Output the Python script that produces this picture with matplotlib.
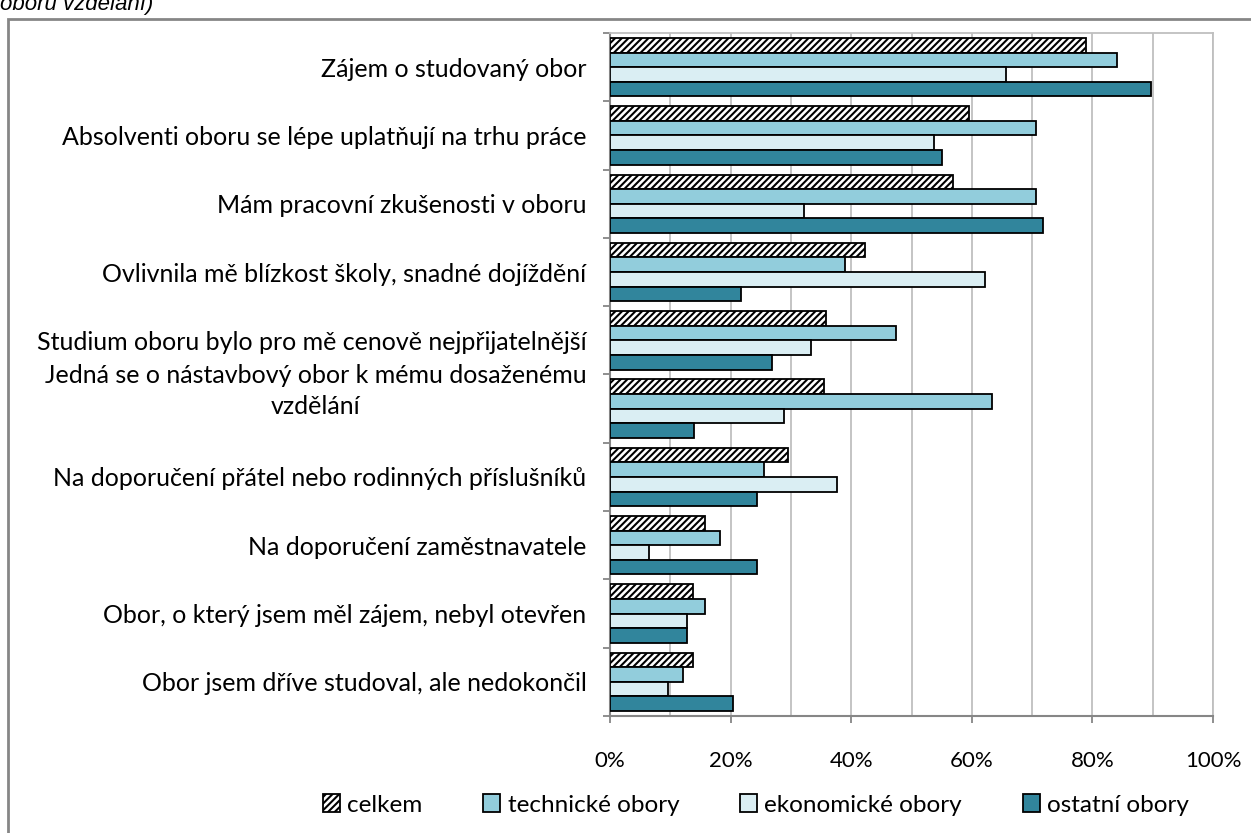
import numpy as np
import matplotlib
matplotlib.use('Agg')
import matplotlib.pyplot as plt
import matplotlib.transforms as mtrans
from matplotlib.patches import Rectangle, Patch
from matplotlib.ticker import MultipleLocator, FixedLocator, PercentFormatter

plt.rcParams['font.family'] = ['Lato', 'DejaVu Sans']
plt.rcParams['hatch.linewidth'] = 1.5

## data (percent)
categories = ["Zájem o studovaný obor",
              "Absolventi oboru se lépe uplatňují na trhu práce",
              "Mám pracovní zkušenosti v oboru",
              "Ovlivnila mě blízkost školy, snadné dojíždění",
              "Studium oboru bylo pro mě cenově nejpřijatelnější",
              "Jedná se o nástavbový obor k mému dosaženému\nvzdělání",
              "Na doporučení přátel nebo rodinných příslušníků",
              "Na doporučení zaměstnavatele",
              "Obor, o který jsem měl zájem, nebyl otevřen",
              "Obor jsem dříve studoval, ale nedokončil"]
celkem = [79.0, 59.6, 56.9, 42.3, 35.9, 35.5, 29.6, 15.8, 13.8, 13.8]
technicke = [84.1, 70.6, 70.6, 39.0, 47.5, 63.3, 25.5, 18.2, 15.8, 12.1]
ekonomicke = [65.6, 53.7, 32.2, 62.2, 33.3, 28.9, 37.6, 6.4, 12.8, 9.6]
ostatni = [89.7, 55.1, 71.8, 21.7, 26.9, 14.0, 24.3, 24.3, 12.7, 20.4]
series_names = ["celkem", "technické obory", "ekonomické obory", "ostatní obory"]

series = [celkem, technicke, ekonomicke, ostatni]
colors = ['white', '#92CDDC', '#DAEEF3', '#31859C']
hatches = ['/////', None, None, None]

fig = plt.figure(figsize=(12.51, 8.33), dpi=100)
ax = fig.add_axes([610/1251, 1-716/833, 603/1251, 683/833])

y = np.arange(len(categories))
h = 0.214
for k, vals in enumerate(series):
    ax.barh(y - 1.5*h + k*h, vals, height=h, color=colors[k], hatch=hatches[k],
            edgecolor='black', linewidth=1.3, zorder=3)

ax.set_xlim(0, 100)
ax.set_ylim(len(categories)-0.5, -0.5)
ax.xaxis.set_major_locator(MultipleLocator(20))
ax.xaxis.set_minor_locator(MultipleLocator(10))
ax.xaxis.set_major_formatter(PercentFormatter(decimals=0))
ax.grid(True, axis='x', which='both', color='#BFBFBF', linewidth=1.3, zorder=0)
ax.set_axisbelow(True)

ax.set_yticks(y)
ax.set_yticklabels(categories)
ax.yaxis.set_minor_locator(FixedLocator(np.arange(-0.5, len(categories), 1)))
ax.tick_params(axis='y', which='major', length=0, pad=17, labelsize=18)
ax.tick_params(axis='y', which='minor', length=5, width=1.3, color='#868686')
ax.tick_params(axis='x', which='major', length=5, width=1.3, color='#868686', pad=20, labelsize=16)
ax.tick_params(axis='x', which='minor', length=0)
for lab in ax.get_yticklabels():
    lab.set_multialignment('center')
    if '\n' in lab.get_text():
        lab.set_linespacing(1.45)
        lab.set_transform(lab.get_transform() + mtrans.ScaledTranslation(0, 0.24, fig.dpi_scale_trans))

for s in ['left', 'bottom']:
    ax.spines[s].set_color('#868686')
    ax.spines[s].set_linewidth(1.5)
for s in ['top', 'right']:
    ax.spines[s].set_color('#BFBFBF')
    ax.spines[s].set_linewidth(1.3)

handles = [Patch(facecolor=colors[k], hatch=hatches[k], edgecolor='black', linewidth=1.3)
           for k in range(4)]
fig.legend(handles, series_names, loc='center', bbox_to_anchor=(756/1251, 1-805/833),
           ncol=4, frameon=False, fontsize=17.5, handlelength=0.7, handleheight=0.7,
           handletextpad=0.3, columnspacing=2.5)

## outer chart frame, cut by the page
fig.add_artist(Rectangle((8/1251, -0.1), 1.2, 1-19/833+0.1, transform=fig.transFigure,
                         fill=False, edgecolor='#868686', linewidth=2))
fig.text(0.0, 1-10/833, "oboru vzdělání)", fontsize=16, style='italic',
         family='Liberation Sans', va='baseline', ha='left')

fig.savefig('out.png', dpi=100)
